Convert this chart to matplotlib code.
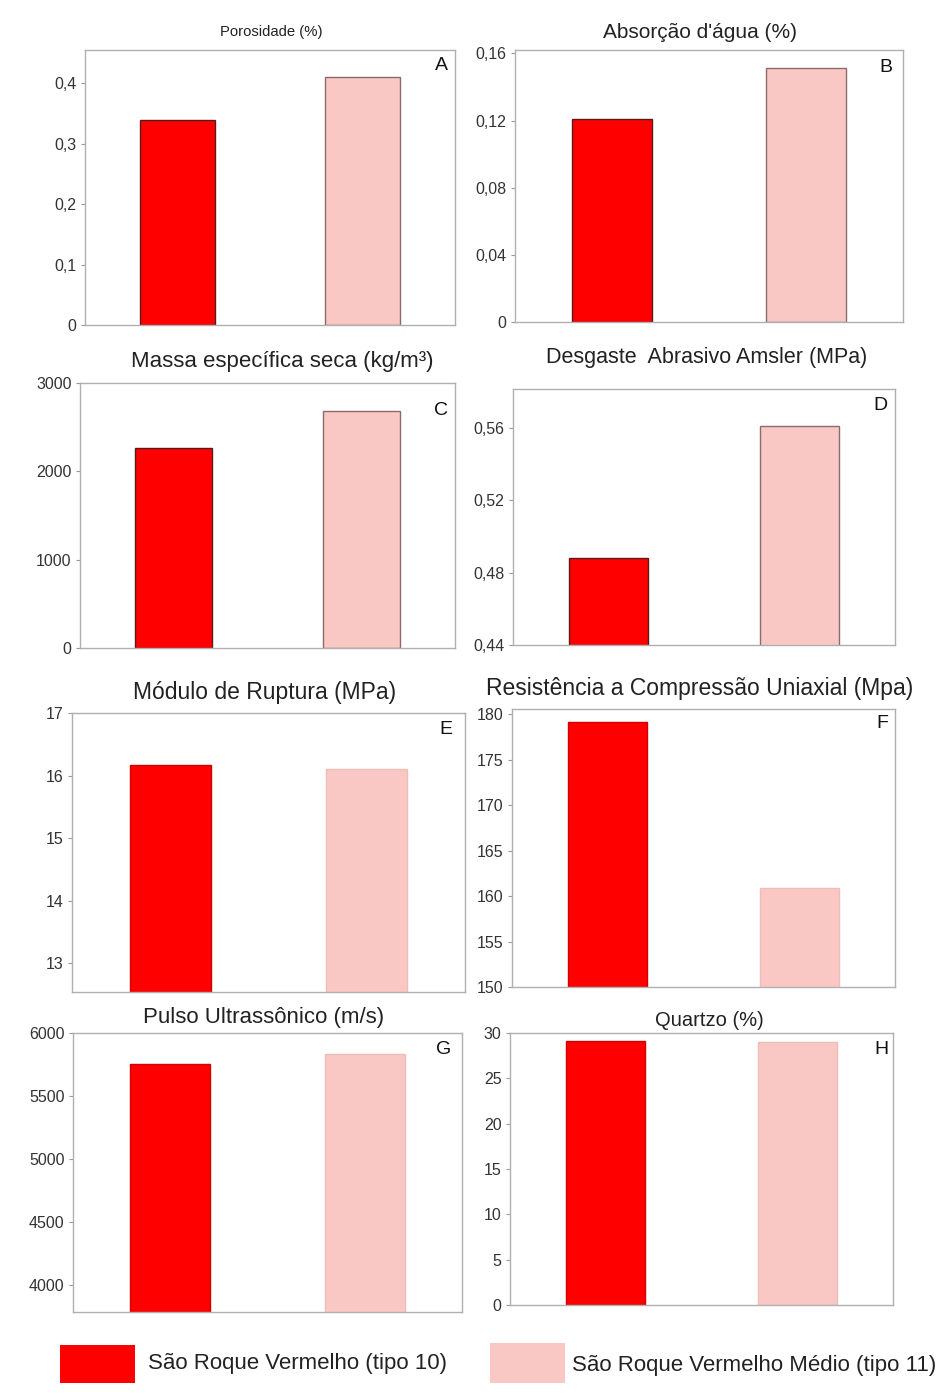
import matplotlib
matplotlib.use("Agg")
import matplotlib.pyplot as plt
from matplotlib.patches import Rectangle

plt.rcParams['font.family'] = ['Liberation Sans', 'DejaVu Sans']

W, H = 941, 1394

# nomes das rochas (legenda)
rochas = ["São Roque Vermelho (tipo 10)", "São Roque Vermelho Médio (tipo 11)"]
cores = ["#fe0000", "#fac8c4"]
bordas = ["#5a1a1a", "#8a6a6a"]
bordas_suaves = ["#d00000", "#f0bcb8"]

# dados de cada painel
porosidade = [0.34, 0.41]
absorcao = [0.121, 0.151]
massa = [2265, 2685]
desgaste = [0.488, 0.561]
ruptura = [16.17, 16.1]
compressao = [179.2, 160.9]
pulso = [5750, 5830]
quartzo = [29.1, 29.0]

titulos = ["Porosidade (%)", "Absorção d'água (%)", "Massa específica seca (kg/m³)",
           "Desgaste  Abrasivo Amsler (MPa)", "Módulo de Ruptura (MPa)",
           "Resistência a Compressão Uniaxial (Mpa)", "Pulso Ultrassônico (m/s)", "Quartzo (%)"]
letras = ["A", "B", "C", "D", "E", "F", "G", "H"]
valores = [porosidade, absorcao, massa, desgaste, ruptura, compressao, pulso, quartzo]
yticks = [[0, 0.1, 0.2, 0.3, 0.4], [0, 0.04, 0.08, 0.12, 0.16], [0, 1000, 2000, 3000],
          [0.44, 0.48, 0.52, 0.56], [13, 14, 15, 16, 17], [150, 155, 160, 165, 170, 175, 180],
          [4000, 4500, 5000, 5500, 6000], [0, 5, 10, 15, 20, 25, 30]]
ylabels = [["0", "0,1", "0,2", "0,3", "0,4"], ["0", "0,04", "0,08", "0,12", "0,16"],
           ["0", "1000", "2000", "3000"], ["0,44", "0,48", "0,52", "0,56"],
           ["13", "14", "15", "16", "17"], ["150", "155", "160", "165", "170", "175", "180"],
           ["4000", "4500", "5000", "5500", "6000"], ["0", "5", "10", "15", "20", "25", "30"]]
ylims = [(0, 0.455), (0, 0.162), (0, 3000), (0.44, 0.5816), (12.54, 17), (150, 180.6),
         (3784, 6000), (0, 30)]

# caixas dos eixos em pixels: esquerda, direita, topo, base
caixas = [(85, 455, 50, 325), (515, 903, 50, 322), (80, 455, 383, 648), (513, 895, 389, 645),
          (72, 465, 713, 992), (512, 895, 709, 987), (73, 462, 1033, 1312), (510, 893, 1033, 1305)]
# posicao dos titulos e letras em pixels
pos_titulo = [(271, 32), (700, 32), (282, 361), (707, 357), (265, 693), (700, 688),
              (264, 1017), (709, 1020)]
tam_titulo = [10.7, 15, 16, 15.5, 16.5, 16.5, 16, 14.5]
pos_letra = [(441, 66), (886, 68), (441, 410), (880, 405), (446, 730), (882, 723),
             (444, 1049), (881, 1049)]

fig = plt.figure(figsize=(W / 100, H / 100), dpi=100)

for i in range(8):
    l, r, t, b = caixas[i]
    ax = fig.add_axes([l / W, 1 - b / H, (r - l) / W, (b - t) / H])
    ec = bordas if i < 4 else bordas_suaves
    ax.bar([0, 1], valores[i], width=0.41, color=cores, edgecolor=ec, linewidth=1.0)
    ax.set_xlim(-0.5, 1.5)
    ax.set_ylim(*ylims[i])
    ax.set_xticks([])
    ax.set_yticks(yticks[i])
    ax.set_yticklabels(ylabels[i])
    ax.tick_params(axis='y', length=3, color='#999999', labelsize=11.5, labelcolor='#333333', pad=3)
    for s in ax.spines.values():
        s.set_color('#b0b0b0')
        s.set_linewidth(1.0)
    fig.text(pos_titulo[i][0] / W, 1 - pos_titulo[i][1] / H, titulos[i], ha='center', va='center',
             fontsize=tam_titulo[i], color='#222222')
    fig.text(pos_letra[i][0] / W, 1 - pos_letra[i][1] / H, letras[i], ha='center', va='center',
             fontsize=14, color='#111111')

# legenda
fig.patches.append(Rectangle((60 / W, 1 - 1383 / H), 75 / W, 38 / H, transform=fig.transFigure,
                             facecolor=cores[0], edgecolor='none'))
fig.patches.append(Rectangle((490 / W, 1 - 1383 / H), 75 / W, 40 / H, transform=fig.transFigure,
                             facecolor=cores[1], edgecolor='none'))
fig.text(148 / W, 1 - 1364 / H, rochas[0], ha='left', va='center', fontsize=16, color='#222222')
fig.text(572 / W, 1 - 1365 / H, rochas[1], ha='left', va='center', fontsize=16, color='#222222')

fig.savefig("out.png", dpi=100)
